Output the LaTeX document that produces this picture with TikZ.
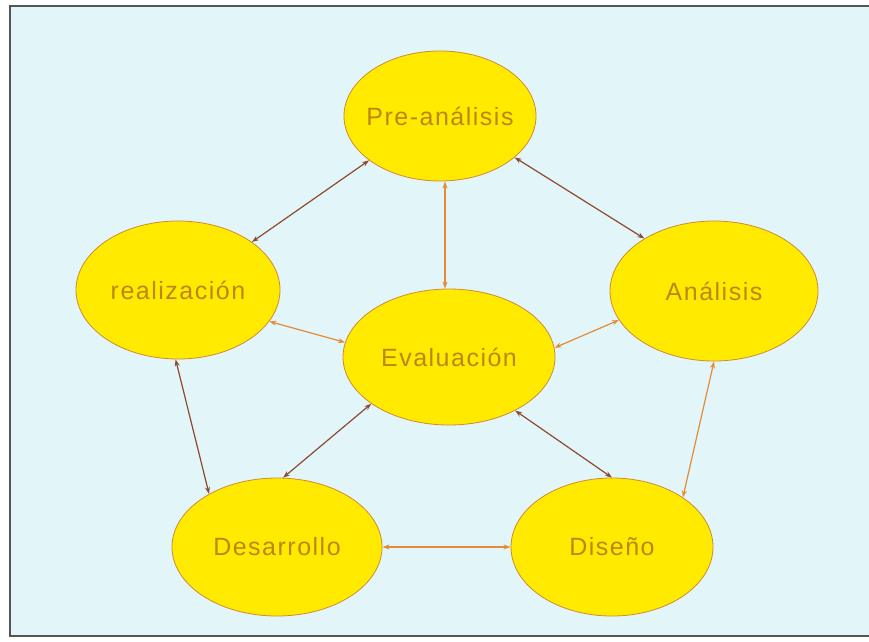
\documentclass[tikz,border=0pt]{standalone}
\usepackage{fontspec}
\setmainfont{Liberation Sans}
\usetikzlibrary{shapes.geometric,arrows.meta}
\definecolor{bgpanel}{RGB}{226,245,249}
\definecolor{framegray}{RGB}{85,85,85}
\definecolor{bubble}{RGB}{255,234,0}
\definecolor{bubbleline}{RGB}{205,140,45}
\definecolor{labeltext}{RGB}{188,134,18}
\definecolor{linkbrown}{RGB}{140,75,45}
\definecolor{linkorange}{RGB}{226,140,55}
\tikzset{
  phase/.style={ellipse, fill=bubble, draw=bubbleline, line width=0.8pt,
    inner ysep=0pt, inner xsep=-20pt, text=labeltext,
    font=\fontsize{25}{29}\selectfont\addfontfeature{LetterSpace=6}},
  linkb/.style={draw=linkbrown, line width=1.2pt, {Stealth[length=7pt,width=5pt]}-{Stealth[length=7pt,width=5pt]}},
  linko/.style={draw=linkorange, line width=1.2pt, {Stealth[length=7pt,width=5pt]}-{Stealth[length=7pt,width=5pt]}},
}
\begin{document}
\begin{tikzpicture}[x=1pt,y=-1pt]
  \useasboundingbox (0,0) rectangle (869,641);
  \fill[white] (0,0) rectangle (869,641);
  \fill[bgpanel] (10,6) rectangle (869,636);
  \draw[framegray, line width=2.5pt] (873,6) -- (10,6) -- (10,636) -- (873,636);

  \node[phase, minimum width=192pt, minimum height=130pt] (pre) at (440,116) {Pre-análisis};
  \node[phase, minimum width=204pt, minimum height=138pt] (rea) at (178,290) {realización};
  \node[phase, minimum width=208pt, minimum height=140pt] (ana) at (714,291) {Análisis};
  \node[phase, minimum width=212pt, minimum height=136pt] (eva) at (449,357) {Evaluación};
  \node[phase, minimum width=210pt, minimum height=138pt] (des) at (277,547) {Desarrollo};
  \node[phase, minimum width=202pt, minimum height=138pt] (dis) at (612,547) {Diseño};

  \draw[linkb] (pre.212) -- (rea.33);
  \draw[linkb] (pre.331) -- (ana.143);
  \draw[linko] ([xshift=5pt]pre.south) -- ([xshift=-4pt]eva.north);
  \draw[linko] (rea.341) -- (eva.172);
  \draw[linko] (ana.197) -- (eva.5);
  \draw[linkb] (eva.211) -- (des.85);
  \draw[linkb] (eva.321) -- (dis.90);
  \draw[linkb] (rea.268) -- (des.142);
  \draw[linko] (ana.270) -- (dis.35);
  \draw[linko] (des.east) -- (dis.west);
\end{tikzpicture}
\end{document}
